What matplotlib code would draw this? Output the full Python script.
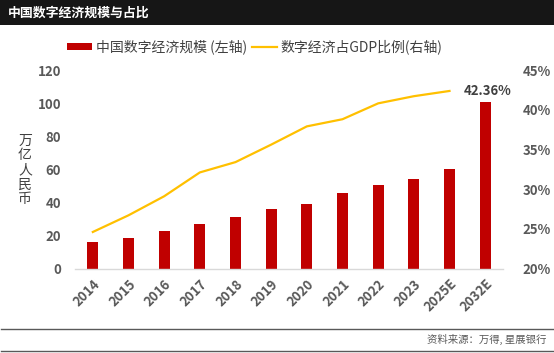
import matplotlib
matplotlib.use("Agg")
import matplotlib.pyplot as plt
from matplotlib.lines import Line2D
from matplotlib.patches import Patch

plt.rcParams['font.family'] = ['Noto Sans CJK SC', 'DejaVu Sans']

categories = ["2014", "2015", "2016", "2017", "2018", "2019", "2020",
              "2021", "2022", "2023", "2025E", "2032E"]
scale = [16.2, 18.6, 22.6, 27.2, 31.3, 35.8, 39.2, 45.5, 50.2, 53.9, 60.2, 100.4]
share = [24.6, 26.7, 29.1, 32.1, 33.4, 35.6, 37.9, 38.8, 40.8, 41.7, 42.36]
left_ticks = [0, 20, 40, 60, 80, 100, 120]
right_ticks = [20, 25, 30, 35, 40, 45]

W, H = 554, 353
fig = plt.figure(figsize=(W / 100, H / 100), dpi=100)

# title bar
fig.patches.append(plt.Rectangle((0, 1 - 25 / H), 1, 25 / H, transform=fig.transFigure,
                                 facecolor="#161616", edgecolor="none"))
fig.text(8 / W, 1 - 12.5 / H, "中国数字经济规模与占比", color="white", fontsize=9.3,
         fontweight="bold", va="center", ha="left")

ax = fig.add_axes([75 / W, (H - 268.5) / H, 428 / W, 198.5 / H])
x = list(range(len(categories)))
ax.bar(x, scale, width=0.31, color="#C00000", zorder=2)
ax.set_xlim(-0.5, len(categories) - 0.5)
ax.set_ylim(0, 120)
ax.set_yticks(left_ticks)
ax.set_yticklabels([str(t) for t in left_ticks])
ax.set_xticks(x)
ax.set_xticklabels(categories, rotation=45, ha="right", rotation_mode="anchor")
for s in ["top", "right", "left"]:
    ax.spines[s].set_visible(False)
ax.spines["bottom"].set_color("#d9d9d9")
ax.spines["bottom"].set_linewidth(1.0)
ax.tick_params(axis="both", length=0, labelcolor="#595959", labelsize=9.5)
ax.tick_params(axis="y", pad=10)
ax.tick_params(axis="x", pad=6)
for lab in ax.get_xticklabels() + ax.get_yticklabels():
    lab.set_fontweight("bold")

ax2 = ax.twinx()
ax2.plot(x[:len(share)], share, color="#FFC000", linewidth=1.6, zorder=3)
ax2.set_ylim(20, 45)
ax2.set_yticks(right_ticks)
ax2.set_yticklabels([f"{t}%" for t in right_ticks])
for s in ["top", "right", "left", "bottom"]:
    ax2.spines[s].set_visible(False)
ax2.tick_params(axis="y", length=0, labelcolor="#595959", labelsize=9.5, pad=14)
for lab in ax2.get_yticklabels():
    lab.set_fontweight("bold")
ax2.annotate(f"{share[-1]:.2f}%", xy=(x[len(share) - 1], share[-1]), xytext=(10, 0),
             textcoords="offset points", ha="left", va="center", fontsize=9.5,
             fontweight="bold", color="#404040")

# y label stacked vertically
fig.text(25 / W, 1 - 170 / H, "万\n亿\n人\n民\n币", fontsize=10, color="#404040",
         ha="center", va="center", linespacing=1.05)

# legend
handles = [Patch(facecolor="#C00000", edgecolor="none"),
           Line2D([0], [0], color="#FFC000", linewidth=1.6)]
fig.legend(handles, ["中国数字经济规模 (左轴)", "数字经济占GDP比例(右轴)"],
           loc="center", bbox_to_anchor=(255 / W, 1 - 47 / H), ncol=2, frameon=False,
           fontsize=10, labelcolor="#404040", handlelength=1.8, handleheight=0.5,
           handletextpad=0.3, columnspacing=0.3, borderaxespad=0)

# bottom lines and source
for yy in (328.7, 351):
    fig.add_artist(Line2D([1 / W, 553 / W], [1 - yy / H, 1 - yy / H],
                          color="#595959", linewidth=1.0, transform=fig.transFigure))
fig.text(546 / W, 1 - 339 / H, "资料来源：万得, 星展银行", fontsize=7.5, color="#595959",
         ha="right", va="center")

fig.savefig("out.png", dpi=100)
